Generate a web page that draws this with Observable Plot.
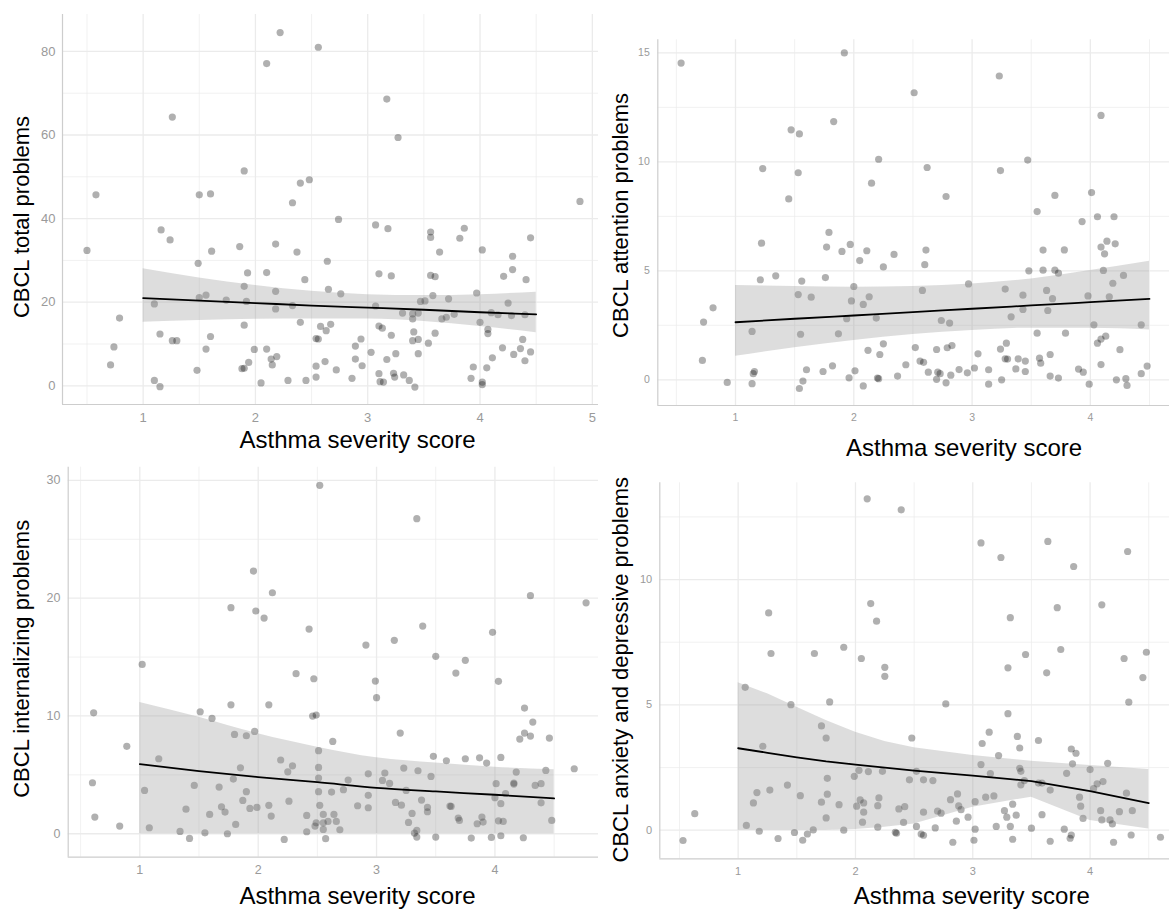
<!DOCTYPE html>
<html>
<head>
<meta charset="utf-8">
<script src="https://cdn.jsdelivr.net/npm/d3@7"></script>
<script src="https://cdn.jsdelivr.net/npm/@observablehq/plot@0.6"></script>
<style>
  body { margin: 0; background: #fff; }
  #wrap { position: relative; width: 1169px; height: 909px; overflow: hidden; background: #fff; }
  .panel { position: absolute; }
</style>
</head>
<body>
<div id="wrap"></div>
<script>
const FONT = '"Liberation Sans", Arial, Helvetica, sans-serif';
const xTitle = "Asthma severity score";
const yTitles = ["CBCL total problems", "CBCL attention problems", "CBCL internalizing problems", "CBCL anxiety and depressive problems"];

// tick values
const p1XTicks = [1, 2, 3, 4, 5], p1XMinor = [0.5, 1.5, 2.5, 3.5, 4.5];
const p1YTicks = [0, 20, 40, 60, 80], p1YMinor = [10, 30, 50, 70];
const p2XTicks = [1, 2, 3, 4], p2XMinor = [0.5, 1.5, 2.5, 3.5, 4.5];
const p2YTicks = [0, 5, 10, 15], p2YMinor = [2.5, 7.5, 12.5];
const p3XTicks = [1, 2, 3, 4], p3XMinor = [0.5, 1.5, 2.5, 3.5, 4.5];
const p3YTicks = [0, 10, 20, 30], p3YMinor = [5, 15, 25];
const p4XTicks = [1, 2, 3, 4], p4XMinor = [0.5, 1.5, 2.5, 3.5, 4.5];
const p4YTicks = [0, 5, 10], p4YMinor = [2.5, 7.5, 12.5];

// observations [severity, score]
const p1Points = [[0.50,32.4],[0.58,45.7],[0.79,16.2],[0.74,9.3],[0.71,5.0],[1.16,37.3],[1.24,34.9],[1.26,64.3],[1.10,19.6],[1.15,12.4],[1.26,10.8],[1.30,10.8],[1.10,1.3],[1.15,-0.2],[1.50,45.7],[1.60,45.9],[1.49,29.3],[1.50,21.1],[1.56,21.7],[1.61,32.2],[1.60,11.8],[1.56,8.8],[1.48,3.7],[1.74,20.5],[1.86,33.3],[1.90,51.4],[1.90,23.8],[1.93,27.0],[1.92,20.2],[1.90,14.5],[1.99,8.7],[1.94,5.6],[1.88,4.1],[1.90,4.2],[2.05,0.7],[2.10,77.1],[2.22,84.5],[2.10,27.1],[2.18,33.9],[2.18,22.6],[2.18,18.4],[2.10,8.8],[2.14,6.4],[2.19,7.0],[2.15,5.0],[2.29,1.3],[2.33,43.8],[2.40,48.5],[2.48,49.3],[2.37,32.0],[2.44,25.4],[2.33,19.2],[2.40,15.2],[2.45,1.3],[2.56,81.0],[2.64,29.8],[2.65,23.1],[2.58,14.2],[2.63,13.2],[2.54,11.3],[2.56,11.2],[2.62,5.8],[2.54,4.7],[2.54,2.1],
[3.17,68.6],[3.27,59.4],[2.74,39.8],[3.07,38.5],[3.18,37.6],[3.56,36.8],[3.56,35.5],[3.86,37.7],[3.82,35.3],[4.45,35.4],[3.64,32.0],[4.02,32.5],[4.29,31.0],[4.29,27.8],[4.41,25.4],[4.21,26.2],[3.10,26.8],[3.21,26.3],[3.56,26.4],[3.60,26.1],[2.76,22.0],[3.07,19.1],[3.58,21.6],[3.47,20.2],[3.51,20.3],[3.72,20.8],[3.97,22.2],[4.25,19.8],[3.31,17.4],[3.40,17.2],[3.40,16.0],[3.45,17.4],[3.66,16.0],[3.70,16.4],[3.77,17.1],[4.10,17.5],[4.16,17.0],[4.28,16.8],[4.40,17.0],[4.00,15.2],[2.67,14.7],[2.72,3.8],[2.86,1.8],[2.89,9.5],[2.94,11.2],[2.89,6.4],[2.95,4.8],[3.03,8.0],[3.10,2.9],[3.11,1.0],[3.14,0.9],[3.17,6.3],[3.10,14.3],[3.13,13.8],[3.21,12.1],[3.25,7.7],[3.23,3.0],[3.24,2.1],[3.32,2.6],[3.37,1.3],[3.42,-0.3],[3.41,12.9],[3.40,10.8],[3.45,11.1],[3.45,7.7],[3.54,10.2],[3.60,12.6],[3.94,4.5],[3.92,1.8],[4.02,0.9],[4.02,0.3],[4.06,4.3],[4.07,13.5],[4.07,12.5],[4.11,6.7],[4.20,9.1],[4.30,7.5],[4.36,8.9],[4.38,11.1],[4.40,6.0],[4.45,8.1],[4.89,44.1]];

const p2Points = [[0.54,14.53],[0.73,2.65],[0.81,3.30],[0.72,0.89],[0.93,-0.12],[1.14,2.22],[1.16,0.38],[1.15,0.28],[1.14,-0.18],[1.21,4.59],[1.22,6.27],[1.23,9.69],[1.34,4.77],[1.45,8.30],[1.47,11.47],[1.54,11.28],[1.53,9.50],[1.53,3.91],[1.56,4.53],[1.55,2.09],[1.60,0.46],[1.57,-0.06],[1.54,-0.40],[1.64,3.79],[1.74,0.38],[1.76,4.69],[1.77,6.09],[1.79,6.76],[1.82,0.64],[1.83,11.85],[1.87,2.11],[1.90,5.89],[1.92,15.0],[1.94,2.80],[1.97,6.21],[1.96,0.09],[1.98,3.62],[2.00,4.28],[2.01,0.41],[2.05,5.47],[2.08,-0.28],[2.08,3.46],[2.11,5.92],[2.13,3.81],[2.12,1.35],[2.15,9.02],[2.19,2.83],[2.21,10.12],[2.20,0.08],[2.21,0.05],[2.22,1.16],[2.25,5.18],[2.25,1.65],
[2.34,5.75],[2.37,0.17],[2.44,0.69],[2.51,13.17],[2.52,1.48],[2.56,0.86],[2.59,0.80],[2.58,4.10],[2.60,5.28],[2.61,5.95],[2.62,9.74],[2.63,0.35],[2.70,1.39],[2.70,0.02],[2.71,0.35],[2.73,0.28],[2.74,2.72],[2.78,8.41],[2.78,-0.14],[2.79,1.47],[2.81,2.60],[2.82,0.21],[2.83,1.57],[2.89,0.47],[2.96,0.32],[2.97,4.40],[3.02,0.54],[3.05,1.19],[3.14,-0.20],[3.14,0.46],[3.23,13.94],[3.24,9.60],[3.24,1.41],[3.25,0.00],[3.28,4.16],[3.29,1.68],[3.28,0.96],[3.30,0.95],[3.33,2.89],[3.37,0.50],[3.39,0.96],[3.43,3.88],[3.43,3.23],[3.45,0.86],[3.45,0.38],[3.47,10.08],[3.48,5.00],[3.55,7.72],[3.55,2.14],[3.57,0.99],[3.58,0.76],[3.60,5.95],[3.60,5.03],[3.63,4.10],[3.64,3.18],[3.66,1.16],[3.66,0.17],[3.68,3.72],[3.70,8.46],[3.70,5.03],[3.73,4.89],[3.73,0.08],[3.78,5.96],[3.79,2.14],[3.90,0.49],[3.93,7.26],[3.94,0.35],[3.98,3.85],[3.99,-0.20],[4.01,8.59],[4.03,2.52],[4.06,7.48],[4.06,1.68],[4.09,12.13],[4.09,1.87],[4.09,0.70],[4.09,6.09],[4.11,5.02],[4.12,5.78],[4.13,2.00],[4.14,6.36],[4.16,3.81],[4.19,4.43],[4.20,7.48],[4.21,6.24],[4.22,0.00],[4.25,1.38],[4.28,4.79],[4.30,0.05],[4.31,-0.26],[4.43,2.52],[4.43,0.28],[4.48,0.63]];

const p3Points = [[0.61,10.27],[0.60,4.33],[0.62,1.42],[0.83,0.65],[0.89,7.42],[1.02,14.38],[1.04,3.68],[1.08,0.51],[1.16,6.37],[1.34,0.20],[1.39,2.09],[1.42,-0.40],[1.46,4.10],[1.51,10.36],[1.55,0.08],[1.59,1.64],[1.61,9.79],[1.67,3.96],[1.69,2.29],[1.72,1.84],[1.74,0.00],[1.77,19.19],[1.77,10.95],[1.80,8.43],[1.79,4.64],[1.81,0.79],[1.85,5.60],[1.87,2.83],[1.90,8.32],[1.90,3.57],[1.93,2.15],[1.96,22.30],[1.97,8.69],[1.98,18.91],[1.99,2.24],[2.05,18.31],[2.09,2.41],[2.09,10.95],[2.11,1.50],[2.12,20.46],[2.19,6.26],[2.22,-0.48],[2.25,5.26],[2.26,2.77],[2.29,5.77],[2.32,13.59],[2.41,1.56],[2.41,0.17],[2.43,17.38],[2.47,13.16],[2.46,9.99],[2.49,10.08],[2.48,0.65],[2.49,0.93],[2.52,29.58],[2.51,7.05],[2.51,5.63],[2.51,4.73],[2.51,3.57],[2.52,2.41],[2.55,1.64],[2.55,0.93],[2.55,0.37],[2.57,-0.42],[2.59,1.05],
[2.63,7.84],[2.62,3.54],[2.64,1.64],[2.66,1.05],[2.69,0.34],[2.72,3.74],[2.76,4.56],[2.84,2.38],[2.91,16.02],[2.93,5.09],[2.93,3.26],[2.93,2.21],[2.99,12.96],[3.00,11.55],[3.05,4.53],[3.07,5.15],[3.11,4.27],[3.15,16.42],[3.16,2.66],[3.21,2.43],[3.20,8.55],[3.23,5.58],[3.25,3.68],[3.27,0.96],[3.30,1.73],[3.32,0.06],[3.34,0.28],[3.34,26.75],[3.34,-0.28],[3.35,5.35],[3.38,2.86],[3.39,17.63],[3.43,2.24],[3.43,1.87],[3.46,4.87],[3.48,6.57],[3.50,15.06],[3.50,-0.28],[3.59,6.20],[3.62,2.35],[3.63,2.32],[3.67,13.64],[3.69,1.33],[3.70,1.13],[3.75,14.72],[3.75,6.37],[3.80,-0.37],[3.85,0.85],[3.87,6.45],[3.89,1.42],[3.90,0.99],[3.93,6.00],[3.97,-0.31],[3.98,17.10],[4.01,4.25],[4.00,3.06],[4.03,12.94],[4.03,1.10],[4.05,6.48],[4.05,2.55],[4.05,-0.17],[4.07,1.05],[4.09,3.42],[4.16,4.22],[4.16,4.30],[4.18,5.24],[4.21,8.04],[4.24,-0.34],[4.25,10.67],[4.25,8.55],[4.30,8.29],[4.30,20.21],[4.32,9.48],[4.34,4.10],[4.39,4.25],[4.39,2.63],[4.43,5.38],[4.46,8.12],[4.48,1.13],[4.67,5.52],[4.77,19.61]];

const p4Points = [[0.53,-0.41],[0.63,0.66],[1.06,5.70],[1.07,0.19],[1.13,1.09],[1.16,1.50],[1.18,-0.04],[1.21,3.35],[1.26,8.67],[1.27,1.60],[1.28,7.05],[1.34,-0.33],[1.42,1.80],[1.45,5.01],[1.48,-0.09],[1.53,1.38],[1.55,-0.40],[1.59,-0.15],[1.64,0.01],[1.65,7.05],[1.71,1.12],[1.71,4.16],[1.75,3.68],[1.75,0.49],[1.76,1.44],[1.76,2.07],[1.78,5.12],[1.86,1.02],[1.90,0.00],[1.90,7.30],[1.99,2.15],[2.01,0.96],[2.03,2.39],[2.04,1.21],[2.05,6.85],[2.06,0.32],[2.07,0.72],[2.07,1.09],[2.10,13.22],[2.11,2.34],[2.13,9.04],[2.18,8.34],[2.19,0.98],[2.19,0.12],[2.20,1.29],[2.23,2.35],[2.25,6.50],[2.25,6.14],
[2.39,12.78],[2.48,3.68],[2.46,2.01],[2.52,2.35],[2.37,0.85],[2.42,0.94],[2.41,0.31],[2.34,-0.08],[2.35,-0.12],[2.52,0.15],[2.56,-0.15],[2.58,-0.20],[2.58,2.01],[2.58,0.72],[2.66,1.98],[2.68,0.09],[2.70,0.76],[2.73,0.68],[2.77,5.04],[2.81,1.22],[2.83,-0.48],[2.86,0.36],[2.87,1.45],[2.88,0.97],[2.90,0.82],[2.96,0.52],[3.01,-0.40],[3.02,0.04],[3.02,1.14],[3.07,2.62],[3.07,11.46],[3.08,3.46],[3.11,1.32],[3.14,3.91],[3.15,2.26],[3.18,1.37],[3.20,0.15],[3.22,2.98],[3.24,10.88],[3.27,0.78],[3.29,0.52],[3.30,6.48],[3.30,4.65],[3.32,8.48],[3.32,0.15],[3.34,-0.36],[3.34,1.04],[3.37,0.60],[3.38,3.74],[3.40,3.28],[3.40,2.47],[3.41,2.35],[3.41,1.81],[3.44,1.98],[3.45,7.01],[3.50,0.08],[3.56,3.58],[3.56,1.88],[3.59,1.88],[3.59,0.62],[3.63,6.28],[3.64,11.52],[3.66,1.60],[3.66,-0.44],[3.72,8.88],[3.75,7.21],[3.78,0.04],[3.80,2.27],[3.83,-0.32],[3.84,-0.19],[3.84,3.24],[3.85,2.65],[3.86,10.52],[3.88,3.07],[3.91,1.32],[3.92,0.96],[3.94,0.47],[4.00,2.42],[4.03,1.66],[4.06,1.85],[4.09,0.78],[4.10,0.41],[4.10,8.99],[4.11,1.94],[4.15,2.67],[4.17,0.41],[4.19,0.25],[4.20,-0.48],[4.25,0.74],[4.29,6.85],[4.31,1.48],[4.32,11.12],[4.33,5.11],[4.35,-0.19],[4.36,0.78],[4.45,6.09],[4.48,7.10],[4.60,-0.28]];

// fitted curves with confidence band
const bandX = [1, 1.5, 2, 2.5, 3, 3.5, 4, 4.5];
const p1Lo = [15.2, 15.6, 15.9, 16.0, 16.0, 15.4, 14.2, 12.7];
const p1Fit = [21.0, 20.4, 19.8, 19.2, 18.7, 18.2, 17.6, 17.1];
const p1Hi = [28.0, 25.8, 24.0, 22.6, 21.8, 21.6, 21.8, 22.4];
const p2Lo = [1.08, 1.47, 1.80, 2.08, 2.26, 2.37, 2.37, 2.29];
const p2Fit = [2.64, 2.80, 2.95, 3.10, 3.26, 3.41, 3.56, 3.71];
const p2Hi = [4.33, 4.28, 4.25, 4.28, 4.40, 4.63, 5.01, 5.44];
const p3Lo = [0, 0, 0, 0, 0, 0, 0, 0];
const p3Fit = [5.91, 5.32, 4.81, 4.38, 3.90, 3.59, 3.31, 3.00];
const p3Hi = [11.15, 9.90, 8.49, 7.35, 6.45, 6.00, 5.65, 5.43];
const p4BandX = [1, 1.25, 1.5, 1.75, 2, 2.25, 2.5, 3, 3.5, 4, 4.5];
const p4Lo = [0, 0, 0, 0, 0.03, 0.12, 0.25, 0.92, 1.32, 0.39, 0.05];
const p4Fit = [3.27, 3.09, 2.91, 2.75, 2.62, 2.50, 2.38, 2.18, 1.96, 1.56, 1.08];
const p4Hi = [5.88, 5.44, 4.91, 4.38, 3.91, 3.54, 3.29, 2.98, 2.75, 2.58, 2.42];

const panels = [
  {left: 0, top: 0, w: 598, h: 455, mL: 62, mT: 14, mB: 51,
   xd: [0.282, 5.055], yd: [-4.47, 88.83], pts: p1Points,
   bx: bandX, lo: p1Lo, fit: p1Fit, hi: p1Hi, curve: "monotone-x",
   xT: p1XTicks, xM: p1XMinor, yT: p1YTicks, yM: p1YMinor,
   tickFs: 13, xPad: 8.2, yPad: 7, yTitle: yTitles[0],
   xtdx: 27, xtdy: 36.3, ytdx: -40.7, ytdy: 7.5},
  {left: 600, top: 0, w: 569, h: 455, mL: 57.3, mT: 39.3, mB: 50,
   xd: [0.343, 4.669], yd: [-1.18, 15.6], pts: p2Points,
   bx: bandX, lo: p2Lo, fit: p2Fit, hi: p2Hi, curve: "monotone-x",
   xT: p2XTicks, xM: p2XMinor, yT: p2YTicks, yM: p2YMinor,
   tickFs: 10.5, xPad: 8, yPad: 8, yTitle: yTitles[1],
   xtdx: 50.4, xtdy: 43.3, ytdx: -37, ytdy: -7.2},
  {left: 0, top: 455, w: 598, h: 454, mL: 67.7, mT: 11.7, mB: 52.3,
   xd: [0.395, 4.875], yd: [-1.99, 31.12], pts: p3Points,
   bx: bandX, lo: p3Lo, fit: p3Fit, hi: p3Hi, curve: "monotone-x",
   xT: p3XTicks, xM: p3XMinor, yT: p3YTicks, yM: p3YMinor,
   tickFs: 12.5, xPad: 8.2, yPad: 7.7, yTitle: yTitles[2],
   xtdx: 24.1, xtdy: 38.8, ytdx: -46.4, ytdy: -3.4},
  {left: 600, top: 455, w: 569, h: 454, mL: 59.3, mT: 27.3, mB: 50.7,
   xd: [0.332, 4.677], yd: [-1.14, 13.86], pts: p4Points,
   bx: p4BandX, lo: p4Lo, fit: p4Fit, hi: p4Hi, curve: "linear",
   xT: p4XTicks, xM: p4XMinor, yT: p4YTicks, yM: p4YMinor,
   tickFs: 11, xPad: 8.6, yPad: 7.6, yTitle: yTitles[3],
   xtdx: 57.1, xtdy: 37.2, ytdx: -39, ytdy: -1.1}
];

const wrap = document.getElementById("wrap");
const GRID = "#ebebeb", AXIS = "#cdcdcd", TICK = "#9a9a9a";
const fmt = d => String(d);

for (const p of panels) {
  const pts = p.pts.map(([x, y]) => ({x, y}));
  const band = p.bx.map((x, i) => ({x, lo: p.lo[i], fit: p.fit[i], hi: p.hi[i]}));
  const chart = Plot.plot({
    width: p.w, height: p.h,
    marginLeft: p.mL, marginTop: p.mT, marginBottom: p.mB, marginRight: 0,
    x: {domain: p.xd, axis: null},
    y: {domain: p.yd, axis: null},
    style: {fontFamily: FONT, background: "transparent", overflow: "visible", color: TICK},
    marks: [
      Plot.gridX(p.xM, {stroke: GRID, strokeOpacity: 1, strokeWidth: 0.7}),
      Plot.gridY(p.yM, {stroke: GRID, strokeOpacity: 1, strokeWidth: 0.7}),
      Plot.gridX(p.xT, {stroke: GRID, strokeOpacity: 1, strokeWidth: 1.3}),
      Plot.gridY(p.yT, {stroke: GRID, strokeOpacity: 1, strokeWidth: 1.3}),
      Plot.ruleX([p.xd[0]], {stroke: AXIS, strokeWidth: 1.2}),
      Plot.ruleY([p.yd[0]], {stroke: AXIS, strokeWidth: 1.2}),
      Plot.axisX(p.xT, {tickSize: 0, tickPadding: p.xPad, fontSize: p.tickFs, color: TICK, label: null, tickFormat: fmt}),
      Plot.axisY(p.yT, {tickSize: 0, tickPadding: p.yPad, fontSize: p.tickFs, color: TICK, label: null, tickFormat: fmt}),
      Plot.dot(pts, {x: "x", y: "y", r: 3.6, fill: "black", fillOpacity: 0.31, stroke: "none"}),
      Plot.areaY(band, {x: "x", y1: "lo", y2: "hi", fill: "#999999", fillOpacity: 0.33, curve: p.curve}),
      Plot.line(band, {x: "x", y: "fit", stroke: "black", strokeWidth: 1.8, curve: p.curve}),
      Plot.text([xTitle], {text: d => d, frameAnchor: "bottom", lineAnchor: "middle", textAnchor: "middle",
        dx: p.xtdx, dy: p.xtdy, fontSize: 24, fill: "black"}),
      Plot.text([p.yTitle], {text: d => d, frameAnchor: "left", rotate: -90, lineAnchor: "middle", textAnchor: "middle",
        dx: p.ytdx, dy: p.ytdy, fontSize: 22, fill: "black"})
    ]
  });
  const div = document.createElement("div");
  div.className = "panel";
  div.style.left = p.left + "px";
  div.style.top = p.top + "px";
  div.appendChild(chart);
  wrap.appendChild(div);
}
</script>
</body>
</html>
